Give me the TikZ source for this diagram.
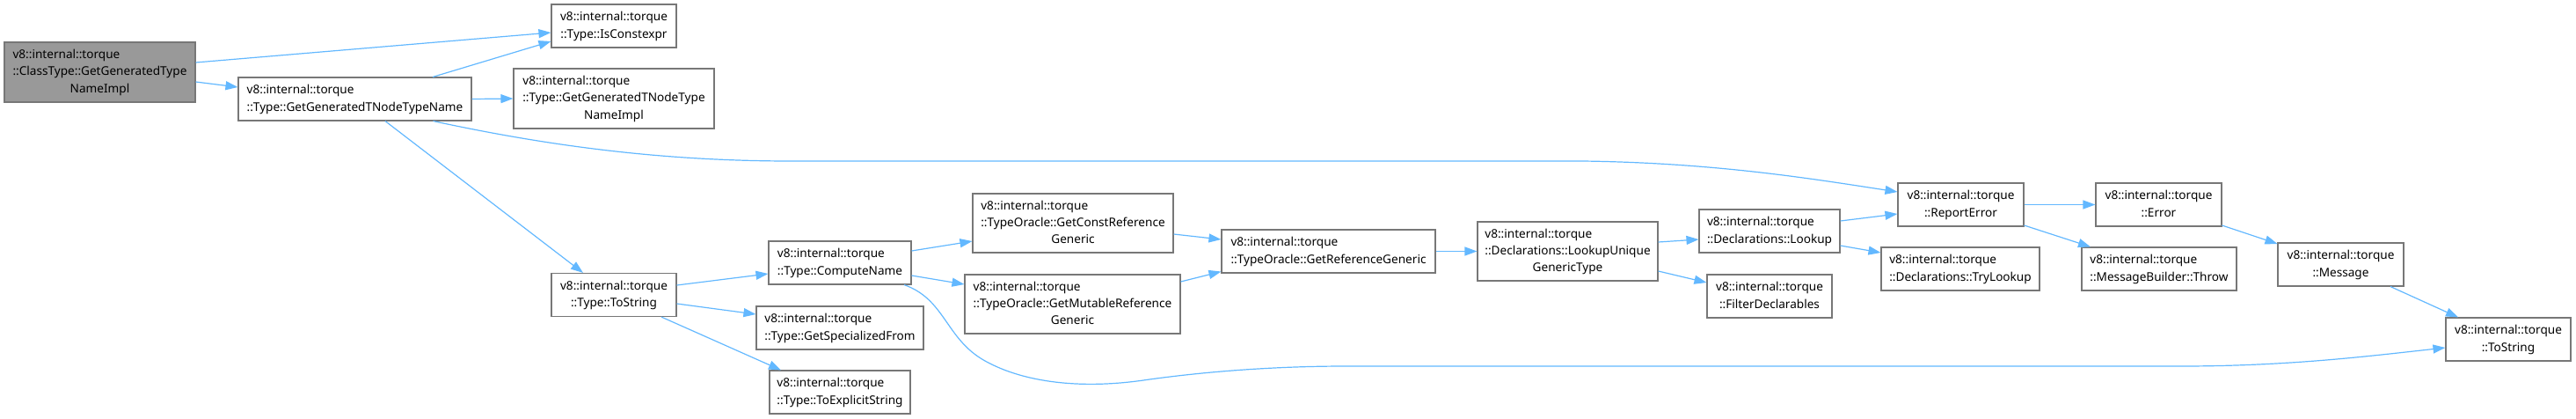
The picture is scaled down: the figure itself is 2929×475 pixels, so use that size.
\documentclass[tikz,border=0pt]{standalone}
\usepackage{fontspec}
\setmainfont{Noto Sans}
\usetikzlibrary{arrows.meta}
\definecolor{edgec}{HTML}{63B8FF}
\definecolor{bord}{HTML}{777777}
\definecolor{greyf}{HTML}{999999}
\newcommand\labtwo[2]{\begin{tabular}{@{}l@{}}#1\\\multicolumn{1}{@{}c@{}}{#2}\end{tabular}}
\newcommand\labthree[3]{\begin{tabular}{@{}l@{}}#1\\#2\\\multicolumn{1}{@{}c@{}}{#3}\end{tabular}}
\tikzset{
  fn/.style={draw=bord, line width=1.1pt, fill=white, inner sep=0pt,
    font=\fontsize{13.6}{19.3}\selectfont},
  ed/.style={draw=edgec, line width=1.2pt, -{Triangle[length=14pt,width=10pt]}}
}
\begin{document}
\begin{tikzpicture}[x=1pt,y=-1pt]
\useasboundingbox (0,0) rectangle (2929,475);
\node[fn, fill=greyf, minimum width=217pt, minimum height=68pt] (g) at (113.5,82) {\labthree{v8::internal::torque}{::ClassType::GetGeneratedType}{NameImpl}};
\node[fn, minimum width=142pt, minimum height=49pt] (isc) at (698,29.5) {\labtwo{v8::internal::torque}{::Type::IsConstexpr}};
\node[fn, minimum width=265pt, minimum height=49pt] (ggt) at (403.5,112.5) {\labtwo{v8::internal::torque}{::Type::GetGeneratedTNodeTypeName}};
\node[fn, minimum width=228pt, minimum height=68pt] (ggti) at (698,112) {\labthree{v8::internal::torque}{::Type::GetGeneratedTNodeType}{NameImpl}};
\node[fn, minimum width=142pt, minimum height=49pt] (tos) at (698,335) {\labtwo{v8::internal::torque}{::Type::ToString}};
\node[fn, minimum width=162pt, minimum height=49pt] (cn) at (955,298.5) {\labtwo{v8::internal::torque}{::Type::ComputeName}};
\node[fn, minimum width=190pt, minimum height=49pt] (gsf) at (955,372.5) {\labtwo{v8::internal::torque}{::Type::GetSpecializedFrom}};
\node[fn, minimum width=160pt, minimum height=49pt] (tes) at (955,445.5) {\labtwo{v8::internal::torque}{::Type::ToExplicitString}};
\node[fn, minimum width=228pt, minimum height=67pt] (gcr) at (1220,253.5) {\labthree{v8::internal::torque}{::TypeOracle::GetConstReference}{Generic}};
\node[fn, minimum width=245pt, minimum height=67pt] (gmr) at (1219.5,345.5) {\labthree{v8::internal::torque}{::TypeOracle::GetMutableReference}{Generic}};
\node[fn, minimum width=243pt, minimum height=49pt] (grg) at (1510.5,285.5) {\labtwo{v8::internal::torque}{::TypeOracle::GetReferenceGeneric}};
\node[fn, minimum width=205pt, minimum height=67pt] (lug) at (1782.5,285.5) {\labthree{v8::internal::torque}{::Declarations::LookupUnique}{GenericType}};
\node[fn, minimum width=160pt, minimum height=49pt] (lku) at (2012,262.5) {\labtwo{v8::internal::torque}{::Declarations::Lookup}};
\node[fn, minimum width=142pt, minimum height=49pt] (fd) at (2012,336.5) {\labtwo{v8::internal::torque}{::FilterDeclarables}};
\node[fn, minimum width=143pt, minimum height=49pt] (re) at (2229.5,232.5) {\labtwo{v8::internal::torque}{::ReportError}};
\node[fn, minimum width=180pt, minimum height=49pt] (tl) at (2229,305.5) {\labtwo{v8::internal::torque}{::Declarations::TryLookup}};
\node[fn, minimum width=143pt, minimum height=49pt] (err) at (2454.5,232.5) {\labtwo{v8::internal::torque}{::Error}};
\node[fn, minimum width=176pt, minimum height=49pt] (mbt) at (2455,305.5) {\labtwo{v8::internal::torque}{::MessageBuilder::Throw}};
\node[fn, minimum width=143pt, minimum height=49pt] (msg) at (2661.5,300.5) {\labtwo{v8::internal::torque}{::Message}};
\node[fn, minimum width=142pt, minimum height=49pt] (ts) at (2852,385.5) {\labtwo{v8::internal::torque}{::ToString}};

\draw[ed] ([yshift=11pt]g.east) -- ([yshift=-7.5pt]isc.west);
\draw[ed] ([yshift=-11pt]g.east) -- ([yshift=13.5pt]ggt.west);
\draw[ed] ([xshift=88.5pt]ggt.north) -- ([yshift=-17.5pt]isc.west);
\draw[ed] (ggt.east) -- (ggti.west);
\draw[ed] ([xshift=89pt]ggt.south) .. controls (620,165) and (750,183) .. (900,183) -- (1800,183) .. controls (1950,185) and (2060,203) .. ([yshift=14.5pt]re.west);
\draw[ed] ([xshift=34.5pt]ggt.south) -- ([xshift=-35pt]tos.north);
\draw[ed] ([yshift=11pt]tos.east) -- ([yshift=-12.5pt]cn.west);
\draw[ed] ([yshift=-10pt]tos.east) -- ([yshift=15.5pt]gsf.west);
\draw[ed] ([xshift=54pt]tos.south) -- ([xshift=-67pt]tes.north);
\draw[ed] ([yshift=13.5pt]cn.east) -- ([yshift=-20.5pt]gcr.west);
\draw[ed] ([yshift=-14.5pt]cn.east) -- ([yshift=22.5pt]gmr.west);
\draw[ed] ([xshift=73pt]cn.south) .. controls (1075,340) and (1075,385) .. (1120,410) .. controls (1165,435) and (1230,442) .. (1300,432) .. controls (1370,422) and (1450,416) .. (1530,416) -- (2480,416) .. controls (2600,416) and (2690,405) .. ([yshift=-9.5pt]ts.west);
\draw[ed] ([yshift=-12.5pt]gcr.east) -- ([yshift=13.5pt]grg.west);
\draw[ed] ([yshift=25.5pt]gmr.east) -- ([yshift=-23pt]grg.west);
\draw[ed] (grg.east) -- (lug.west);
\draw[ed] ([yshift=10.5pt]lug.east) -- ([yshift=-9.5pt]lku.west);
\draw[ed] ([yshift=-22.5pt]lug.east) -- ([yshift=15.5pt]fd.west);
\draw[ed] ([yshift=11.5pt]lku.east) -- ([yshift=-10.5pt]re.west);
\draw[ed] ([yshift=-16.5pt]lku.east) -- ([yshift=18.5pt]tl.west);
\draw[ed] (re.east) -- (err.west);
\draw[ed] ([yshift=-23.5pt]re.east) -- ([xshift=-78pt]mbt.north);
\draw[ed] ([yshift=-23.5pt]err.east) -- ([yshift=23.5pt]msg.west);
\draw[ed] ([xshift=56.5pt]msg.south) -- ([xshift=-57pt]ts.north);
\end{tikzpicture}
\end{document}
